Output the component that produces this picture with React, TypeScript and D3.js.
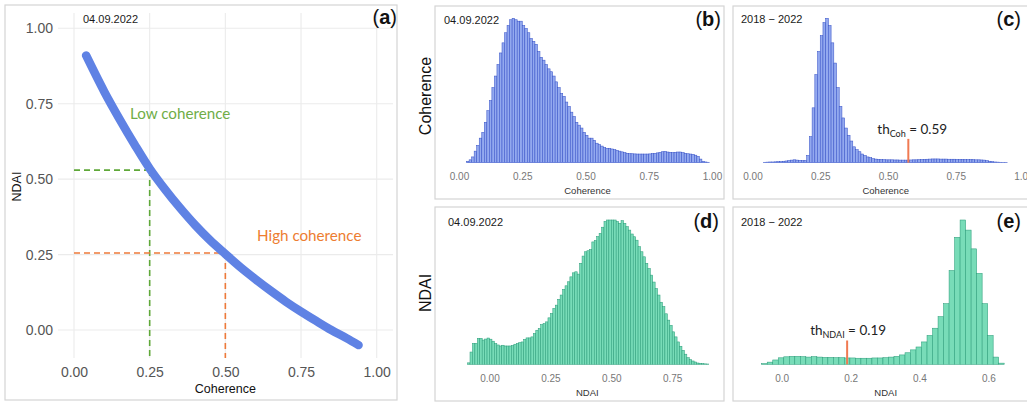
import React, { useEffect, useRef } from "react";
import * as d3 from "d3";

// (a) fitted NDAI–coherence curve
const curveCoh = [0.04, 0.1, 0.15, 0.2, 0.25, 0.3, 0.35, 0.4, 0.45, 0.5, 0.55, 0.6, 0.65, 0.7, 0.75, 0.8, 0.85, 0.9, 0.94];
const curveNdai = [0.91, 0.79, 0.7, 0.615, 0.535, 0.467, 0.405, 0.348, 0.297, 0.252, 0.208, 0.168, 0.13, 0.094, 0.061, 0.03, 0.0, -0.027, -0.05];
const ticksA = [0, 0.25, 0.5, 0.75, 1];
const lowCoh = { coh: 0.25, ndai: 0.53 };
const highCoh = { coh: 0.5, ndai: 0.255 };

// (b) coherence histogram 04.09.2022, bins of 0.01 from 0.03 (relative counts)
const cohDayStart = 0.03;
const cohDayCounts = [
  1, 2, 4, 8, 12, 17, 21, 28, 36, 43, 52, 60, 68, 76, 83, 90, 95, 99, 100, 99,
  98, 98, 95, 93, 90, 86, 84, 82, 77, 73, 71, 68, 65, 63, 60, 56, 52, 48, 46, 42,
  39, 35, 32, 28, 26, 24, 21, 19, 17,
  17, 15.5, 13.5, 12.5, 11.5, 10.5, 10, 10, 9.5, 9, 8.5, 8, 7.5, 7, 6.5, 6.3, 6.2, 6.1, 6, 6,
  6, 6, 6, 6.1, 6.3, 6.5, 6.8, 7.2, 7.6, 7.8, 7.4, 7.2, 7, 7.2, 7.4, 7.4, 7, 6.5, 6.2, 6,
  5.8, 5.2, 4.4, 2.5, 1, 0.5, 0.3,
];

// (c) coherence histogram 2018-2022, bins of 0.01 from 0.04
const cohAllStart = 0.04;
const cohAllCounts = [
  0.3, 0.4, 0.5, 0.5, 0.6, 0.7, 0.8, 1.0, 1.2, 1.5, 1.8, 2.0, 1.8, 1.6, 1.4, 1.5,
  5, 18, 38, 61, 77, 88, 97, 100, 95, 83, 69, 52, 39, 31, 24, 19, 15, 11, 9, 7.6, 6, 5, 4, 3.5, 2.8, 2.5,
  2.3, 2.2, 2.1, 2.0, 2.0, 2.0, 1.9, 1.9, 1.8, 1.8, 1.8, 1.8, 1.9, 2.0, 2.0, 2.1, 2.2, 2.3,
  2.4, 2.5, 2.6, 2.6, 2.6, 2.5, 2.5, 2.5, 2.4, 2.4, 2.4, 2.3, 2.3, 2.3, 2.2, 2.2, 2.2, 2.1, 2.0, 2.0, 1.9, 1.8,
  1.4, 1.0, 0.7, 0.5, 0.4, 0.3, 0.2, 0.2,
];

// (d) NDAI histogram 04.09.2022, bins of 0.01 from -0.09
const ndaiDayStart = -0.09;
const ndaiDayCounts = [
  1, 8.5, 14.5, 14.5, 18, 18, 16.8, 17.5, 18.2, 17.4, 16, 14.4, 13.4, 12.7, 13.2, 12.7, 12.7, 12.7, 13, 13.9,
  14.4, 15, 15.5, 17.2, 18.3, 18.3, 19, 21.3, 23.6, 24.8, 27.5, 28.2, 29.4, 32.2, 35.2, 38.7, 41, 45, 48, 51.9,
  54.4, 57.2, 60.6, 63.4, 64.1, 62.5, 70, 75, 78, 78.7, 79.5, 84.8, 85.8, 88.5, 90.7, 95, 99, 100, 100, 100,
  100, 99, 97.7, 99.5, 97.7, 95.4, 93, 90.3, 88.4, 86, 81.5, 78, 74.5, 70, 66.4, 61.8, 57, 52.5, 48, 43,
  40, 35, 30.6, 27, 22.5, 19, 15.5, 12.5, 9.7, 7, 4.6, 3.2, 2.3, 1.6, 0.9, 0.7, 0.5, 0.3, 0.2,
];

// (e) NDAI histogram 2018-2022, bins of 0.016 from -0.058
const ndaiAllStart = -0.058;
const ndaiAllCounts = [
  0.5, 1.5, 3, 4.5, 5.2, 5.5, 5.5, 5.3, 5.0, 5.3, 5.0, 4.8, 4.8, 4.6, 4.6, 4.4, 4.4, 4.2, 4.2, 4.2,
  4.4, 4.4, 4.6, 5.0, 5.5, 6.5, 8, 10, 12, 15.5, 20, 25, 33, 42, 65, 88, 100, 93, 80, 63,
  42, 20, 5, 0.8,
];

const thCoh = { pos: 0.575, top: 16.5, sub: "Coh", text: " = 0.59" };
const thNdai = { pos: 0.19, top: 16.5, sub: "NDAI", text: " = 0.19" };

const ticksCoh = [0, 0.25, 0.5, 0.75, 1];
const ticksNdaiDay = [0, 0.25, 0.5, 0.75];
const ticksNdaiAll = [0, 0.2, 0.4, 0.6];

const SANS = "'Liberation Sans', Arial, sans-serif";
const NOTE = "Lato, 'Open Sans', sans-serif";
const BLUE_FILL = "#93a9ef";
const BLUE_LINE = "#3a55c9";
const GREEN_FILL = "#78dcb8";
const GREEN_LINE = "#2e9f7c";
const TH_COLOR = "#f07a52";

export default function App() {
  const svgRef = useRef<SVGSVGElement>(null);

  useEffect(() => {
    const svg = d3.select(svgRef.current);
    svg.selectAll("*").remove();

    svg.append("rect").attr("width", 1027).attr("height", 403).attr("fill", "white");

    // panel frames
    const frames = [
      [5, 5, 392, 395],
      [435, 6, 289, 193],
      [733, 6, 300, 193],
      [435, 207, 289, 194],
      [733, 207, 300, 194],
    ];
    svg.selectAll(null).data(frames).join("rect")
      .attr("x", d => d[0]).attr("y", d => d[1])
      .attr("width", d => d[2]).attr("height", d => d[3])
      .attr("fill", "none").attr("stroke", "#d4d4d4").attr("stroke-width", 1.2);

    const tag = (x: number, y: number, letter: string) => {
      const t = svg.append("text").attr("x", x).attr("y", y)
        .attr("text-anchor", "end").style("font-family", SANS).style("font-size", "20px").attr("fill", "#111");
      t.append("tspan").text("(");
      t.append("tspan").style("font-weight", "bold").text(letter);
      t.append("tspan").text(")");
    };
    const note = (x: number, y: number, s: string) =>
      svg.append("text").attr("x", x).attr("y", y).text(s)
        .style("font-family", SANS).style("font-size", "11px").attr("fill", "#1a1a1a");

    // ---------- (a) ----------
    const xa = d3.scaleLinear().domain([0, 1]).range([74, 376.7]);
    const ya = d3.scaleLinear().domain([0, 1]).range([330, 28.3]);
    const ga = svg.append("g");
    ga.selectAll(null).data(ticksA).join("line")
      .attr("x1", d => xa(d)).attr("x2", d => xa(d)).attr("y1", 13).attr("y2", 358)
      .attr("stroke", "#ebebeb").attr("stroke-width", 1.1);
    ga.selectAll(null).data(ticksA).join("line")
      .attr("y1", d => ya(d)).attr("y2", d => ya(d)).attr("x1", 58).attr("x2", 393)
      .attr("stroke", "#ebebeb").attr("stroke-width", 1.1);

    const yAxisA = ga.append("g").attr("transform", "translate(53,0)")
      .call(d3.axisLeft(ya).tickValues(ticksA).tickFormat(d3.format(".2f")).tickSize(0).tickPadding(0));
    const xAxisA = ga.append("g").attr("transform", "translate(0,367.5)")
      .call(d3.axisBottom(xa).tickValues(ticksA).tickFormat(d3.format(".2f")).tickSize(0).tickPadding(0));
    [yAxisA, xAxisA].forEach(ax => {
      ax.select(".domain").remove();
      ax.selectAll("text").style("font-family", SANS).style("font-size", "14px").attr("fill", "#555");
    });

    const dash = (pt: { coh: number; ndai: number }, color: string) => {
      ga.append("line").attr("x1", xa(0)).attr("x2", xa(pt.coh)).attr("y1", ya(pt.ndai)).attr("y2", ya(pt.ndai))
        .attr("stroke", color).attr("stroke-width", 1.6).attr("stroke-dasharray", "6,4");
      ga.append("line").attr("x1", xa(pt.coh)).attr("x2", xa(pt.coh)).attr("y1", ya(pt.ndai)).attr("y2", 358)
        .attr("stroke", color).attr("stroke-width", 1.6).attr("stroke-dasharray", "6,4");
    };
    dash(lowCoh, "#5fa838");
    dash(highCoh, "#ee7a3a");

    const line = d3.line<number>().x((d, i) => xa(curveCoh[i])).y(d => ya(d)).curve(d3.curveCatmullRom);
    ga.append("path").datum(curveNdai).attr("d", line)
      .attr("fill", "none").attr("stroke", "#5f82e4").attr("stroke-width", 8.5).attr("stroke-linecap", "round");

    ga.append("text").attr("x", 130).attr("y", 119).text("Low coherence")
      .style("font-family", NOTE).style("font-size", "15.2px").attr("fill", "#70ad47");
    ga.append("text").attr("x", 257).attr("y", 240.5).text("High coherence")
      .style("font-family", NOTE).style("font-size", "15.2px").attr("fill", "#ed7d31");

    ga.append("text").attr("x", xa(0.5)).attr("y", 393).attr("text-anchor", "middle").text("Coherence")
      .style("font-family", SANS).style("font-size", "12.5px").attr("fill", "#111");
    ga.append("text").attr("transform", "translate(21,186.5) rotate(-90)").attr("text-anchor", "middle").text("NDAI")
      .style("font-family", SANS).style("font-size", "12.5px").attr("fill", "#111");
    note(83, 23, "04.09.2022");
    tag(397, 24, "a");

    // ---------- histograms ----------
    const drawHist = (
      counts: number[], start: number, w: number,
      x: d3.ScaleLinear<number, number>, y: d3.ScaleLinear<number, number>,
      fill: string, stroke: string
    ) => {
      const g = svg.append("g");
      g.selectAll(null).data(counts).join("rect")
        .attr("x", (d, i) => x(start + i * w))
        .attr("width", (d, i) => x(start + (i + 1) * w) - x(start + i * w))
        .attr("y", d => y(d))
        .attr("height", d => y(0) - y(d))
        .attr("fill", fill).attr("stroke", stroke).attr("stroke-width", 0.55);
    };
    const drawAxis = (
      x: d3.ScaleLinear<number, number>, ticks: number[], fmt: string, ty: number,
      title: string, titleX: number, titleY: number
    ) => {
      const ax = svg.append("g").attr("transform", `translate(0,${ty})`)
        .call(d3.axisBottom(x).tickValues(ticks).tickFormat(d3.format(fmt)).tickSize(0).tickPadding(0));
      ax.select(".domain").remove();
      ax.selectAll("text").style("font-family", SANS).style("font-size", "10px").attr("fill", "#777");
      svg.append("text").attr("x", titleX).attr("y", titleY)
        .attr("text-anchor", "middle").text(title)
        .style("font-family", SANS).style("font-size", "9.5px").attr("fill", "#333");
    };
    const threshold = (
      th: { pos: number; top: number; sub: string; text: string },
      x: d3.ScaleLinear<number, number>, y: d3.ScaleLinear<number, number>, dx: number
    ) => {
      svg.append("line").attr("x1", x(th.pos)).attr("x2", x(th.pos)).attr("y1", y(0)).attr("y2", y(th.top))
        .attr("stroke", TH_COLOR).attr("stroke-width", 2);
      const t = svg.append("text").attr("x", x(th.pos) - dx).attr("y", y(th.top) - 5)
        .style("font-family", NOTE).style("font-size", "13.5px").attr("fill", "#222");
      t.append("tspan").text("th");
      t.append("tspan").attr("dy", 3).style("font-size", "9px").text(th.sub);
      t.append("tspan").attr("dy", -3).text(th.text);
    };

    // (b)
    const xb = d3.scaleLinear().domain([0, 1]).range([459, 712]);
    const yTop = d3.scaleLinear().domain([0, 100]).range([162.7, 18.3]);
    drawHist(cohDayCounts, cohDayStart, 0.01, xb, yTop, BLUE_FILL, BLUE_LINE);
    drawAxis(xb, ticksCoh, ".2f", 173, "Coherence", 587.5, 193.5);
    note(444, 24, "04.09.2022");
    tag(721, 26, "b");

    // (c)
    const xc = d3.scaleLinear().domain([0, 1]).range([752.5, 1023.5]);
    drawHist(cohAllCounts, cohAllStart, 0.01, xc, yTop, BLUE_FILL, BLUE_LINE);
    drawAxis(xc, ticksCoh, ".2f", 173, "Coherence", 885.7, 194);
    threshold(thCoh, xc, yTop, 31);
    note(741, 22.5, "2018 \u2212 2022");
    tag(1021, 26, "c");

    // (d)
    const xd = d3.scaleLinear().domain([0, 1]).range([489.5, 733.1]);
    const yBot = d3.scaleLinear().domain([0, 100]).range([364.3, 220]);
    drawHist(ndaiDayCounts, ndaiDayStart, 0.01, xd, yBot, GREEN_FILL, GREEN_LINE);
    drawAxis(xd, ticksNdaiDay, ".2f", 374.5, "NDAI", 587.3, 396);
    note(448, 226, "04.09.2022");
    tag(719, 228, "d");

    // (e)
    const xe = d3.scaleLinear().domain([0, 1]).range([781.7, 1126.1]);
    drawHist(ndaiAllCounts, ndaiAllStart, 0.016, xe, yBot, GREEN_FILL, GREEN_LINE);
    drawAxis(xe, ticksNdaiAll, ".1f", 374.5, "NDAI", 885.7, 395.5);
    threshold(thNdai, xe, yBot, 37);
    note(741, 226, "2018 \u2212 2022");
    tag(1021, 228, "e");

    // big row titles
    svg.append("text").attr("transform", "translate(431,96) rotate(-90)").attr("text-anchor", "middle")
      .text("Coherence").style("font-family", SANS).style("font-size", "16px").attr("fill", "#111");
    svg.append("text").attr("transform", "translate(431,293) rotate(-90)").attr("text-anchor", "middle")
      .text("NDAI").style("font-family", SANS).style("font-size", "16px").attr("fill", "#111");
  }, []);

  return (
    <svg
      ref={svgRef}
      width={1027}
      height={403}
      style={{ position: "absolute", left: 0, top: 0, display: "block" }}
    />
  );
}
